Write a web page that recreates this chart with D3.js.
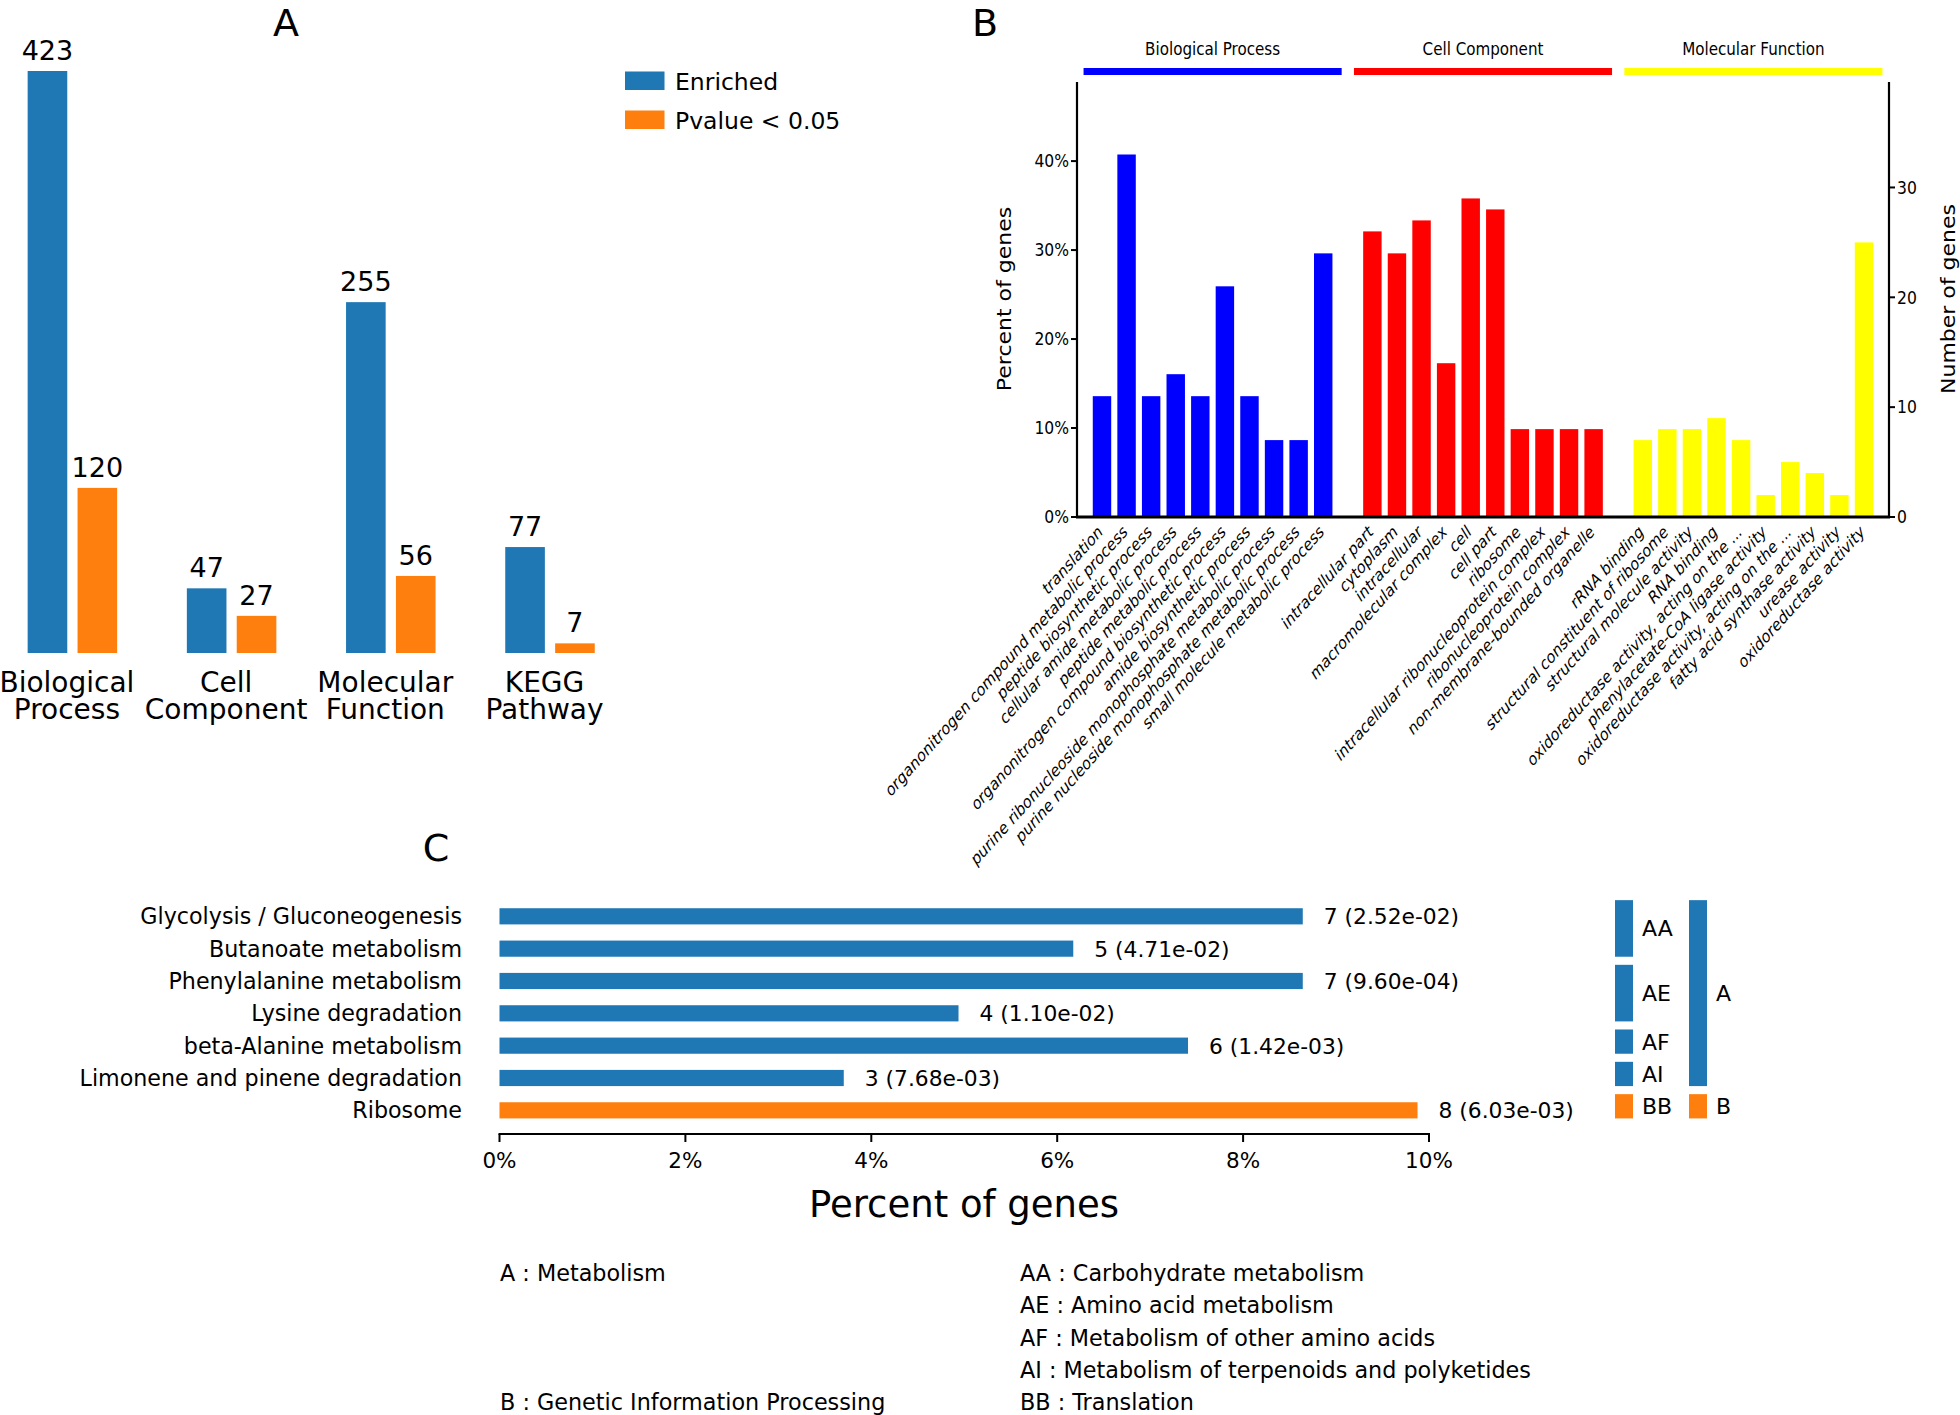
<!DOCTYPE html>
<html>
<head>
<meta charset="utf-8">
<script src="https://cdn.jsdelivr.net/npm/d3@7"></script>
<style>
  html, body { margin: 0; padding: 0; background: #fff; }
  svg { display: block; font-family: "DejaVu Sans", sans-serif; }
</style>
</head>
<body>
<svg id="chart" width="1960" height="1415"></svg>
<script>
// ---------------- Panel A data ----------------
const aCategories = ["Biological\nProcess", "Cell\nComponent", "Molecular\nFunction", "KEGG\nPathway"];
const aSeries = ["Enriched", "Pvalue < 0.05"];
const aEnriched = [423, 47, 255, 77];
const aPvalue = [120, 27, 56, 7];

// ---------------- Panel B data ----------------
const bGroups = ["Biological Process", "Cell Component", "Molecular Function"];
const bpTerms = ["translation", "organonitrogen compound metabolic process", "peptide biosynthetic process",
  "cellular amide metabolic process", "peptide metabolic process", "organonitrogen compound biosynthetic process",
  "amide biosynthetic process", "purine ribonucleoside monophosphate metabolic process",
  "purine nucleoside monophosphate metabolic process", "small molecule metabolic process"];
const bpCounts = [11, 33, 11, 13, 11, 21, 11, 7, 7, 24];
const ccTerms = ["intracellular part", "cytoplasm", "intracellular", "macromolecular complex", "cell", "cell part",
  "ribosome", "intracellular ribonucleoprotein complex", "ribonucleoprotein complex", "non-membrane-bounded organelle"];
const ccCounts = [26, 24, 27, 14, 29, 28, 8, 8, 8, 8];
const mfTerms = ["rRNA binding", "structural constituent of ribosome", "structural molecule activity", "RNA binding",
  "oxidoreductase activity, acting on the ...", "phenylacetate-CoA ligase activity",
  "oxidoreductase activity, acting on the ...", "fatty acid synthase activity", "urease activity", "oxidoreductase activity"];
const mfCounts = [7, 8, 8, 9, 7, 2, 5, 4, 2, 25];
const goTotalGenes = 81;
const bPctTicks = [0, 10, 20, 30, 40];
const bCountTicks = [0, 10, 20, 30];

// ---------------- Panel C data ----------------
const keggPathways = ["Glycolysis / Gluconeogenesis", "Butanoate metabolism", "Phenylalanine metabolism",
  "Lysine degradation", "beta-Alanine metabolism", "Limonene and pinene degradation", "Ribosome"];
const keggCounts = [7, 5, 7, 4, 6, 3, 8];
const keggPvalues = ["2.52e-02", "4.71e-02", "9.60e-04", "1.10e-02", "1.42e-03", "7.68e-03", "6.03e-03"];
const keggClass = ["A", "A", "A", "A", "A", "A", "B"];
const keggSubclass = ["AA", "AA", "AE", "AE", "AF", "AI", "BB"];
const keggTotalGenes = 81;
const cTicks = [0, 2, 4, 6, 8, 10];
const classNames = [["A", "Metabolism"], ["B", "Genetic Information Processing"]];
const subclassNames = [["AA", "Carbohydrate metabolism"], ["AE", "Amino acid metabolism"],
  ["AF", "Metabolism of other amino acids"], ["AI", "Metabolism of terpenoids and polyketides"], ["BB", "Translation"]];

// ---------------- common ----------------
const BLUE = "#1f77b4", ORANGE = "#ff7f0e";
const svg = d3.select("#chart");

function panelLetter(txt, x, y) {
  svg.append("text").attr("x", x).attr("y", y).attr("text-anchor", "middle")
    .attr("font-size", 38).attr("fill", "#000").text(txt);
}
panelLetter("A", 286, 35.5);
panelLetter("B", 985, 35.5);
panelLetter("C", 436, 861);

// =============== Panel A ===============
(function () {
  const g = svg.append("g");
  const x0 = d3.scaleBand().domain(aCategories).range([-7.2, 629.6]);
  const x1 = d3.scaleBand().domain(aSeries).paddingInner(0.206);
  const y = d3.scaleLinear().domain([0, d3.max(aEnriched)]).range([653, 71]);
  const rows = aCategories.map((c, i) => ({ c, vals: [aEnriched[i], aPvalue[i]] }));
  const colors = d3.scaleOrdinal().domain(aSeries).range([BLUE, ORANGE]);

  rows.forEach(r => {
    const cx = x0(r.c) + x0.bandwidth() / 2;
    x1.range([cx - 44.75, cx + 44.75]);
    aSeries.forEach((s, j) => {
      const v = r.vals[j];
      g.append("rect").attr("x", x1(s)).attr("width", x1.bandwidth())
        .attr("y", y(v)).attr("height", y(0) - y(v)).attr("fill", colors(s));
      g.append("text").attr("x", x1(s) + x1.bandwidth() / 2).attr("y", y(v) - 11)
        .attr("text-anchor", "middle").attr("font-size", 27).text(v);
    });
    const lines = r.c.split("\n");
    const t = g.append("text").attr("text-anchor", "middle").attr("font-size", 28);
    lines.forEach((ln, k) => {
      t.append("tspan").attr("x", cx - 5.5).attr("y", 691.5 + k * 27.5).text(ln);
    });
  });

  // legend
  aSeries.forEach((s, j) => {
    g.append("rect").attr("x", 625).attr("y", 71.5 + j * 39).attr("width", 39.5).attr("height", 18.5)
      .attr("fill", colors(s));
    g.append("text").attr("x", 675).attr("y", 90 + j * 39).attr("font-size", 23.5).text(s);
  });
})();

// =============== Panel B ===============
(function () {
  const g = svg.append("g");
  const KX = 0.89;
  const groups = [
    { name: bGroups[0], terms: bpTerms, counts: bpCounts, color: "#0000ff" },
    { name: bGroups[1], terms: ccTerms, counts: ccCounts, color: "#ff0000" },
    { name: bGroups[2], terms: mfTerms, counts: mfCounts, color: "#ffff00" }
  ];
  const items = [];
  const keys = [];
  groups.forEach((gr, gi) => {
    if (gi > 0) keys.push("gap" + gi);
    gr.terms.forEach((t, i) => {
      const key = gi + "_" + i;
      keys.push(key);
      items.push({ key, term: t, count: gr.counts[i], pct: gr.counts[i] / goTotalGenes * 100, color: gr.color, gi });
    });
  });
  const left = 1077, right = 1889, top = 82, bottom = 517;
  const x = d3.scaleBand().domain(keys).range([1089.7, 1876.3]).paddingInner(0.25).paddingOuter(0.125);
  const maxPct = d3.max(items, d => d.pct) * 1.2;
  const yP = d3.scaleLinear().domain([0, maxPct]).range([bottom, top]);
  const yC = d3.scaleLinear().domain([0, maxPct * goTotalGenes / 100]).range([bottom, top]);

  // bars
  g.selectAll("rect.bar").data(items).enter().append("rect")
    .attr("x", d => x(d.key)).attr("width", x.bandwidth())
    .attr("y", d => yP(d.pct)).attr("height", d => yP(0) - yP(d.pct))
    .attr("fill", d => d.color);

  // group header bars
  groups.forEach((gr, gi) => {
    const gi0 = items.find(d => d.gi === gi), gi1 = items.filter(d => d.gi === gi).pop();
    const c0 = x(gi0.key) + x.bandwidth() / 2, c1 = x(gi1.key) + x.bandwidth() / 2;
    const cx = (c0 + c1) / 2, half = x.step() * 5.25;
    g.append("rect").attr("x", cx - half).attr("width", 2 * half).attr("y", 68).attr("height", 7)
      .attr("fill", gr.color);
    g.append("text").attr("transform", `translate(${cx},55) scale(${KX},1)`)
      .attr("text-anchor", "middle").attr("font-size", 17).text(gr.name);
  });

  // spines
  g.append("line").attr("x1", left).attr("x2", left).attr("y1", top).attr("y2", bottom)
    .attr("stroke", "#000").attr("stroke-width", 2.2);
  g.append("line").attr("x1", right).attr("x2", right).attr("y1", top).attr("y2", bottom)
    .attr("stroke", "#000").attr("stroke-width", 2.2);
  g.append("line").attr("x1", left - 1).attr("x2", right + 1).attr("y1", bottom).attr("y2", bottom)
    .attr("stroke", "#000").attr("stroke-width", 3.2);

  // left ticks
  bPctTicks.forEach(t => {
    const yy = yP(t);
    g.append("line").attr("x1", left - 6).attr("x2", left).attr("y1", yy).attr("y2", yy)
      .attr("stroke", "#000").attr("stroke-width", 2);
    g.append("text").attr("transform", `translate(${left - 8},${yy}) scale(${KX},1)`)
      .attr("text-anchor", "end").attr("dy", "0.36em").attr("font-size", 17.5).text(t + "%");
  });
  // right ticks
  bCountTicks.forEach(t => {
    const yy = yC(t);
    g.append("line").attr("x1", right).attr("x2", right + 6).attr("y1", yy).attr("y2", yy)
      .attr("stroke", "#000").attr("stroke-width", 2);
    g.append("text").attr("transform", `translate(${right + 8},${yy}) scale(${KX},1)`)
      .attr("text-anchor", "start").attr("dy", "0.36em").attr("font-size", 17.5).text(t);
  });

  // axis titles
  g.append("text").attr("transform", `translate(1011,299) scale(${KX},1) rotate(-90)`)
    .attr("text-anchor", "middle").attr("font-size", 22).text("Percent of genes");
  g.append("text").attr("transform", `translate(1955,299) scale(${KX},1) rotate(-90)`)
    .attr("text-anchor", "middle").attr("font-size", 22).text("Number of genes");

  // x labels
  g.selectAll("text.xl").data(items).enter().append("text")
    .attr("transform", d => `translate(${x(d.key) + x.bandwidth() / 2 + 2},533) scale(0.9,1) rotate(-45)`)
    .attr("text-anchor", "end").attr("font-size", 16.4).attr("font-style", "italic").text(d => d.term);
})();

// =============== Panel C ===============
(function () {
  const g = svg.append("g");
  const data = keggPathways.map((p, i) => ({
    p, count: keggCounts[i], pct: keggCounts[i] / keggTotalGenes * 100, pv: keggPvalues[i],
    cls: keggClass[i], sub: keggSubclass[i]
  }));
  const x = d3.scaleLinear().domain([0, 10]).range([499.5, 1429]);
  const y = d3.scaleBand().domain(keggPathways).range([900.15, 1126.5]).paddingInner(0.5).paddingOuter(0.25);
  const col = c => (c === "A" ? BLUE : ORANGE);

  g.selectAll("rect.kb").data(data).enter().append("rect")
    .attr("x", x(0)).attr("width", d => x(d.pct) - x(0))
    .attr("y", d => y(d.p)).attr("height", y.bandwidth()).attr("fill", d => col(d.cls));

  g.selectAll("text.kl").data(data).enter().append("text")
    .attr("x", 462).attr("y", d => y(d.p) + y.bandwidth() / 2).attr("dy", "0.36em")
    .attr("text-anchor", "end").attr("font-size", 22.2).text(d => d.p);

  g.selectAll("text.kv").data(data).enter().append("text")
    .attr("x", d => x(d.pct) + 21).attr("y", d => y(d.p) + y.bandwidth() / 2).attr("dy", "0.36em")
    .attr("font-size", 21.8).text(d => `${d.count} (${d.pv})`);

  // x axis
  const axisY = 1134;
  g.append("line").attr("x1", x(0) - 1).attr("x2", x(10) + 1).attr("y1", axisY).attr("y2", axisY)
    .attr("stroke", "#000").attr("stroke-width", 2.2);
  cTicks.forEach(t => {
    g.append("line").attr("x1", x(t)).attr("x2", x(t)).attr("y1", axisY).attr("y2", axisY + 8)
      .attr("stroke", "#000").attr("stroke-width", 2);
    g.append("text").attr("x", x(t)).attr("y", 1168).attr("text-anchor", "middle")
      .attr("font-size", 21.5).text(t + "%");
  });
  g.append("text").attr("x", 964).attr("y", 1217).attr("text-anchor", "middle")
    .attr("font-size", 37).text("Percent of genes");

  // group bars
  function runs(arr) {
    const out = [];
    arr.forEach((v, i) => {
      if (out.length && out[out.length - 1].v === v) out[out.length - 1].end = i;
      else out.push({ v, start: i, end: i });
    });
    return out;
  }
  const step = y.step();
  function drawRuns(arr, bx, lx) {
    runs(arr).forEach(r => {
      const t = y(keggPathways[r.start]) - step / 4;
      const b = y(keggPathways[r.end]) + y.bandwidth();
      g.append("rect").attr("x", bx).attr("width", 18).attr("y", t).attr("height", b - t)
        .attr("fill", col(r.v[0]));
      g.append("text").attr("x", lx).attr("y", (t + b) / 2).attr("dy", "0.36em")
        .attr("font-size", 22).text(r.v);
    });
  }
  drawRuns(keggSubclass, 1615, 1642);
  drawRuns(keggClass, 1689, 1716);

  // footnotes
  const rowY = i => 1281 + i * 32.3;
  classNames.forEach(([k, n]) => {
    const idx = subclassNames.findIndex(s => s[0][0] === k);
    const lastIdx = subclassNames.map(s => s[0][0]).lastIndexOf(k);
    const row = k === "A" ? idx : lastIdx;
    g.append("text").attr("x", 500).attr("y", rowY(row)).attr("font-size", 22.3).text(`${k} : ${n}`);
  });
  subclassNames.forEach(([k, n], i) => {
    g.append("text").attr("x", 1020).attr("y", rowY(i)).attr("font-size", 22.3).text(`${k} : ${n}`);
  });
})();
</script>
</body>
</html>
